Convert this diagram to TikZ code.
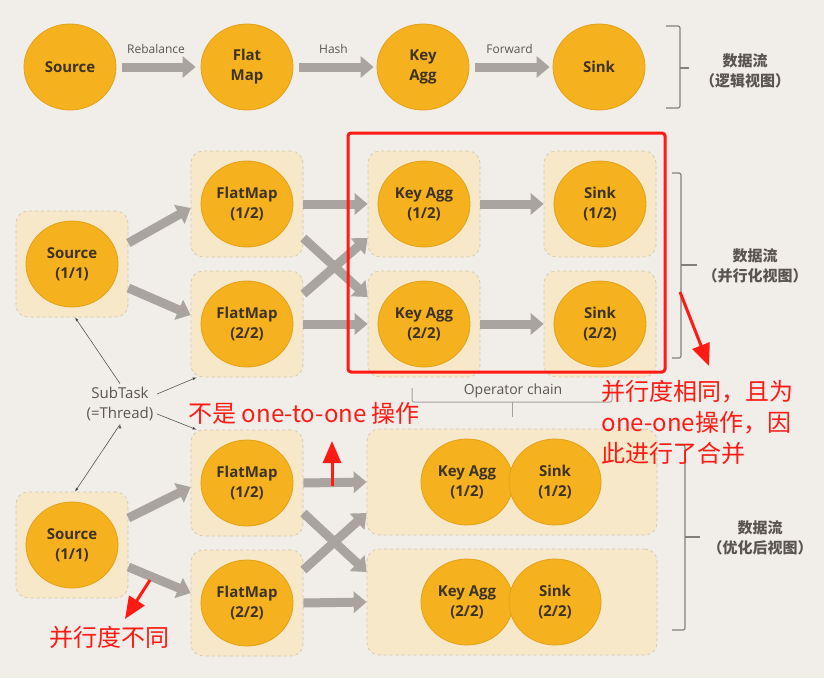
\documentclass[tikz,border=0pt]{standalone}
\usepackage{fontspec}
\setmainfont{Open Sans}
\newfontfamily\cjk{Noto Sans CJK SC}
\usetikzlibrary{arrows,arrows.meta,positioning,shapes.geometric}
\definecolor{paper}{HTML}{F1EEEA}
\definecolor{opfill}{HTML}{F5B21E}
\definecolor{opedge}{HTML}{E2A11A}
\definecolor{optext}{HTML}{3D3320}
\definecolor{slotfill}{HTML}{F6E8C9}
\definecolor{slotedge}{HTML}{D3C7AC}
\definecolor{flowgray}{HTML}{A9A49F}
\definecolor{labgray}{HTML}{5A5550}
\definecolor{notered}{HTML}{FF1A14}
\tikzstyle{op}=[ellipse,fill=opfill,draw=opedge,line width=0.8pt,minimum width=92pt,minimum height=86pt,inner sep=0pt,align=center,text=optext,font=\bfseries\fontsize{15}{20}\selectfont]
\tikzstyle{slot}=[rectangle,rounded corners=12pt,fill=slotfill,draw=slotedge,dashed,line width=0.7pt,minimum width=112pt,minimum height=106pt]
\tikzstyle{chainbox}=[slot,minimum width=290pt]
\tikzstyle{flow}=[color=flowgray,line width=9pt,-{Triangle[width=21pt,length=13pt,color=flowgray,fill=flowgray]}]
\tikzstyle{tag}=[text=labgray,font=\fontsize{12}{14}\selectfont]
\tikzstyle{viewlab}=[text=labgray,align=center,font=\cjk\bfseries\fontsize{15}{20}\selectfont]
\tikzstyle{pointer}=[draw=labgray,line width=0.6pt,-{Latex[length=4pt,width=3pt]}]
\tikzstyle{brace}=[draw=labgray!75,line width=1.2pt,rounded corners=2pt]
\tikzstyle{note}=[text=notered,align=left,font=\cjk\fontsize{24}{31}\selectfont]
\tikzstyle{spike}=[color=notered,line width=3pt,-{Triangle[width=18pt,length=22pt]}]

\begin{document}
\begin{tikzpicture}[x=1pt,y=-1pt]
\fill[paper] (0,0) rectangle (824,678);
\useasboundingbox (0,0) rectangle (824,678);

\node[op] (src) at (70,67) {Source};
\node[op] (flat) at (247,67) {Flat\\Map};
\node[op] (key) at (423,67) {Key\\Agg};
\node[op] (sink) at (599,67) {Sink};
\draw[flow,shorten <=6pt] (src) -- node[above=6pt,tag]{Rebalance} ([xshift=-5pt]flat.west);
\draw[flow,shorten <=6pt] (flat) -- node[above=6pt,tag]{Hash} ([xshift=-3pt]key.west);
\draw[flow,shorten <=6pt] (key) -- node[above=6pt,tag]{Forward} ([xshift=-3pt]sink.west);
\draw[brace] (666,26) -- (680,26) -- (680,108) -- (666,108);
\draw[brace] (680,68) -- (689,68);
\node[viewlab] (v1) at (745,71) {数据流\\（逻辑视图）};

\node[slot] (bs1) at (72,264) {};
\node[slot] (bf1) at (247,204) {};
\node[slot] (bf2) at (247,324) {};
\node[slot] (bk1) at (424,204) {};
\node[slot] (bk2) at (424,324) {};
\node[slot] (bn1) at (600,204) {};
\node[slot] (bn2) at (600,324) {};
\node[op] (s1) at (bs1) {Source\\(1/1)};
\node[op] (f1) at (bf1) {FlatMap\\(1/2)};
\node[op] (f2) at (bf2) {FlatMap\\(2/2)};
\node[op] (k1) at (bk1) {Key Agg\\(1/2)};
\node[op] (k2) at (bk2) {Key Agg\\(2/2)};
\node[op] (n1) at (bn1) {Sink\\(1/2)};
\node[op] (n2) at (bn2) {Sink\\(2/2)};
\draw[flow] ([yshift=21pt]bs1.east) -- ([yshift=-4pt]bf1.west);
\draw[flow] ([yshift=-24pt]bs1.east) -- ([yshift=9pt]bf2.west);
\draw[flow] (bf1.east) -- (bk1.west);
\draw[flow] (bf2.east) -- (bk2.west);
\draw[flow] ([yshift=-34pt]bf1.east) -- ([yshift=27pt]bk2.west);
\draw[flow] ([yshift=30pt]bf2.east) -- ([yshift=-34pt]bk1.west);
\draw[flow] (bk1.east) -- (bn1.west);
\draw[flow] (bk2.east) -- (bn2.west);
\draw[brace] (672,173) -- (681,173) -- (681,358) -- (672,358);
\draw[brace] (681,265) -- (697,265);
\node[viewlab] (v2) at (755,266) {数据流\\（并行化视图）};

\node[text=labgray,align=center,font=\fontsize{15}{20}\selectfont] (st) at (120,404) {SubTask\\(=Thread)};

\node[slot] (bs2) at (72,545) {};
\node[slot] (bf3) at (247,483) {};
\node[slot] (bf4) at (247,603) {};
\node[chainbox] (c1) at (512,482) {};
\node[chainbox] (c2) at (512,602) {};
\node[op] (s2) at (bs2) {Source\\(1/1)};
\node[op] (f3) at (bf3) {FlatMap\\(1/2)};
\node[op] (f4) at (bf4) {FlatMap\\(2/2)};
\node[op] (k3) at (467,482) {Key Agg\\(1/2)};
\node[op] (n3) at (555,482) {Sink\\(1/2)};
\node[op] (k4) at (467,602) {Key Agg\\(2/2)};
\node[op] (n4) at (555,602) {Sink\\(2/2)};
\draw[flow] ([yshift=27pt]bs2.east) -- ([yshift=-4pt]bf3.west);
\draw[flow] ([yshift=-22pt]bs2.east) -- ([yshift=10pt]bf4.west);
\draw[flow] (bf3.east) -- (c1.west);
\draw[flow] (bf4.east) -- (c2.west);
\draw[flow] ([yshift=-30pt]bf3.east) -- ([yshift=30pt]c2.west);
\draw[flow] ([yshift=33pt]bf4.east) -- ([yshift=-31pt]c1.west);
\draw[brace] (675,445) -- (685,445) -- (685,630) -- (672,630);
\draw[brace] (685,537) -- (700,537);
\node[viewlab] (v3) at (760,538) {数据流\\（优化后视图）};

\path[pointer]
(st.north) edge ([xshift=3pt]bs1.south)
(st.15) edge ([xshift=6pt]bf2.south west)
(st.-15) edge ([xshift=6pt]bf3.north west)
(st.south) edge ([xshift=3pt]bs2.north);

\draw[brace,draw=labgray!55,line width=1pt] (412,388) -- (412,402) -- (612,402) -- (612,388);
\draw[brace,draw=labgray!55,line width=1pt] (512,402) -- (512,417);
\node[tag,font=\fontsize{14}{16}\selectfont] (oc) at (513,391) {Operator chain};

\draw[notered,line width=3pt,rounded corners=3pt] (348,133) rectangle (665,372);
\node[note,anchor=west] (m1) at (185,413) {不是 one-to-one 操作};
\node[note,anchor=west] (m2) at (46,637) {并行度不同};
\node[note,anchor=north west] (m3) at (598,377) {并行度相同，且为\\one-one操作，因\\此进行了合并};
\coordinate (u0) at (332,486);
\coordinate (u1) at (332,441);
\coordinate (d0) at (150,580);
\coordinate (d1) at (125,619);
\coordinate (r0) at (680,292);
\coordinate (r1) at (709,366);
\draw[spike] (u0) -- (u1);
\draw[spike] (d0) -- (d1);
\draw[spike] (r0) -- (r1);
\end{tikzpicture}
\end{document}
